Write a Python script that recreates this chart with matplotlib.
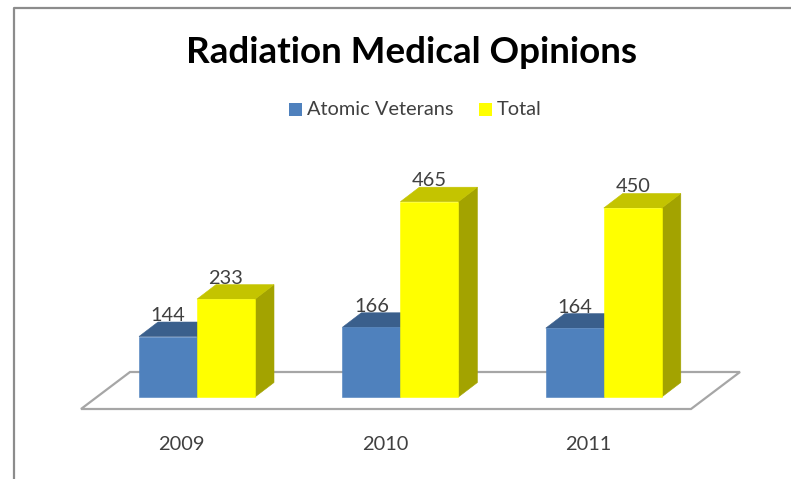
#!/usr/bin/env python3
import matplotlib
matplotlib.use("Agg")
import matplotlib.pyplot as plt
from matplotlib.patches import Polygon, Rectangle

# data
years = ["2009", "2010", "2011"]
veterans = [144, 166, 164]
total = [233, 465, 450]

W, H = 791, 479
PX_PER_CAT = 203.4
PX_PER_UNIT = 0.42
X0_PX = 197       # blue/yellow edge of first group
BASE_PX = 397     # bar base, from top

BAR_W = 58 / PX_PER_CAT
DX = 19 / PX_PER_CAT
DY = 14.5 / PX_PER_UNIT

BLUE = ("#4f81bd", "#3a5f8c", "#3a5f8c")
YELLOW = ("#ffff00", "#c4c400", "#a3a300")
GREY = "#a6a6a6"
TEXT = "#404040"

plt.rcParams["font.family"] = ["Lato", "DejaVu Sans"]

fig = plt.figure(figsize=(W / 100, H / 100), dpi=100)
ax = fig.add_axes([0, 0, 1, 1])
ax.set_xlim(-X0_PX / PX_PER_CAT, (W - X0_PX) / PX_PER_CAT)
ax.set_ylim(-(H - BASE_PX) / PX_PER_UNIT, BASE_PX / PX_PER_UNIT)
ax.axis("off")


def px(x, y):
    """pixel position in the picture -> data coords (for frame and floor only)"""
    return (x - X0_PX) / PX_PER_CAT, (BASE_PX - y) / PX_PER_UNIT


def bar3d(left, value, colors, label):
    front, top, side = colors
    r = left + BAR_W
    ax.add_patch(Polygon([(r, 0), (r + DX, DY), (r + DX, value + DY), (r, value)],
                         fc=side, ec=side, lw=0.4, zorder=3))
    ax.add_patch(Polygon([(left, value), (left + DX, value + DY),
                          (r + DX, value + DY), (r, value)],
                         fc=top, ec=top, lw=0.4, zorder=3))
    ax.add_patch(Rectangle((left, 0), BAR_W, value, fc=front, ec=front, lw=0.4, zorder=4))
    ax.text(left + BAR_W / 2, value + DY + 1 / PX_PER_UNIT, label, ha="center", va="baseline",
            fontsize=14.4, color=TEXT, zorder=5)


# outer frame (left and top only)
ax.plot(*zip(px(14, 479), px(14, 8), px(791, 8)), color="#8c8c8c", lw=1.6, zorder=1)

# floor
floor = [px(81, 409), px(691, 409), px(740, 372), px(130, 372)]
ax.add_patch(Polygon(floor, closed=True, fc="white", ec=GREY, lw=1.6, zorder=1))

for i, year in enumerate(years):
    bar3d(i - BAR_W, veterans[i], BLUE, str(veterans[i]))
    bar3d(i, total[i], YELLOW, str(total[i]))
    ax.text(i - 0.075, px(0, 445)[1], year, ha="center", va="center",
            fontsize=14.4, color=TEXT)

# title
tx, ty = px(411, 52)
ax.text(tx, ty, "Radiation Medical Opinions", ha="center", va="center",
        fontsize=26.5, fontweight="bold", color="black")

# legend
for sx, name, col in [(289, "Atomic Veterans", BLUE[0]), (479, "Total", YELLOW[0])]:
    x0, y0 = px(sx, 116)
    x1, y1 = px(sx + 13, 103)
    ax.add_patch(Rectangle((x0, y0), x1 - x0, y1 - y0, fc=col, ec="none"))
    lx, ly = px(sx + 18, 109.5)
    ax.text(lx, ly, name, ha="left", va="center", fontsize=14.4, color=TEXT)

fig.savefig("out.png", dpi=100, facecolor="white")
plt.close()
